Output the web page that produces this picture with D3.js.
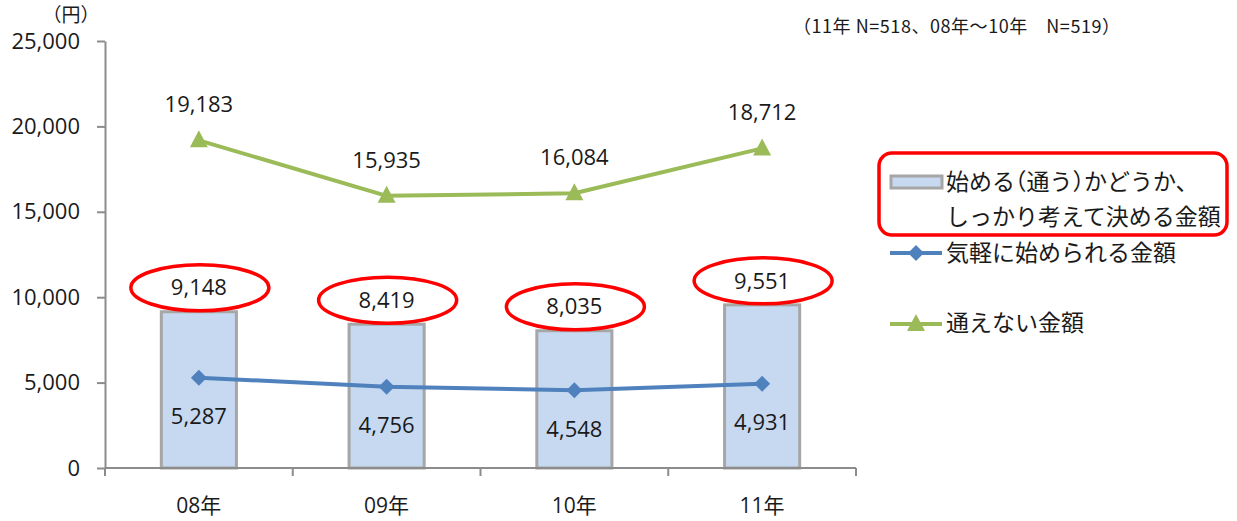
<!DOCTYPE html>
<html><head><meta charset="utf-8">
<script src="https://cdn.jsdelivr.net/npm/d3@7"></script>
<style>
body{margin:0;background:#fff;}
svg{display:block;}
text{font-family:"Open Sans","Noto Sans CJK JP",sans-serif;}
.cjk{font-family:"Noto Sans CJK JP",sans-serif;font-feature-settings:"halt";}
.cjkn{font-family:"Noto Sans CJK JP",sans-serif;}
</style></head>
<body>
<svg id="c" width="1237" height="521"></svg>
<script>
const categories = ["08年","09年","10年","11年"];
const decideValues = [9148, 8419, 8035, 9551];   // bars
const easyValues = [5287, 4756, 4548, 4931];     // blue line
const cannotValues = [19183, 15935, 16084, 18712]; // green line
const yTicks = [0, 5000, 10000, 15000, 20000, 25000];
const legendLabels = [["始める（通う）かどうか、","しっかり考えて決める金額"], ["気軽に始められる金額"], ["通えない金額"]];
const noteText = "（11年 N=518、08年～10年\u3000N=519）";
const unitText = "（円）";

const svg = d3.select("#c");
const x = d3.scaleBand().domain(categories).range([105, 856]).paddingInner(0.6).paddingOuter(0.3);
const y = d3.scaleLinear().domain([0, 25000]).range([468, 41]);
const fmt = d3.format(",");
const cx = c => x(c) + x.bandwidth() / 2;

const grey = "#8c8c8c";
const blue = "#4f81bd";
const green = "#9bbb59";
const ink = "#1a1a1a";

// bars
svg.append("g").selectAll("rect").data(categories).join("rect")
  .attr("x", c => x(c)).attr("width", x.bandwidth())
  .attr("y", (c, i) => y(decideValues[i])).attr("height", (c, i) => y(0) - y(decideValues[i]))
  .attr("fill", "#c6d9f1").attr("stroke", "#a6a6a6").attr("stroke-width", 3);

// y axis
const ya = svg.append("g").attr("transform", "translate(105,0)")
  .call(d3.axisLeft(y).tickValues(yTicks).tickSize(8).tickSizeOuter(0).tickPadding(17).tickFormat(fmt));
ya.select(".domain").attr("stroke", grey).attr("stroke-width", 2);
ya.selectAll(".tick line").attr("stroke", grey).attr("stroke-width", 2);
ya.selectAll(".tick text").attr("font-size", 22).attr("fill", ink).attr("font-family", "Open Sans");

// x axis
const xa = svg.append("g").attr("transform", `translate(0,${y(0)})`);
xa.append("line").attr("x1", 105).attr("x2", 856).attr("stroke", grey).attr("stroke-width", 2);
const bounds = categories.map(c => x(c) - x.step() * x.paddingInner() / 2).concat([856]);
bounds[0] = 105;
xa.selectAll("line.t").data(bounds).join("line").attr("class", "t")
  .attr("x1", d => d).attr("x2", d => d).attr("y1", 0).attr("y2", 8).attr("stroke", grey).attr("stroke-width", 2);
xa.selectAll("text").data(categories).join("text")
  .attr("x", c => cx(c)).attr("y", 38).attr("dy", "0.35em").attr("text-anchor", "middle")
  .attr("font-size", 21).attr("fill", ink).text(c => c);

// lines
function drawLine(vals, color, marker) {
  const line = d3.line().x((d, i) => cx(categories[i])).y(d => y(d));
  svg.append("path").datum(vals).attr("d", line).attr("fill", "none")
    .attr("stroke", color).attr("stroke-width", 4).attr("stroke-linejoin", "round");
  svg.append("g").selectAll("path").data(vals).join("path")
    .attr("transform", (d, i) => `translate(${cx(categories[i])},${y(d)})`)
    .attr("d", marker).attr("fill", color);
}
const diamond = "M0,-8L8,0L0,8L-8,0Z";
const triangle = "M0,-10L9,7L-9,7Z";
drawLine(easyValues, blue, diamond);
drawLine(cannotValues, green, triangle);

// data labels
const lab = svg.append("g").attr("font-size", 22).attr("fill", ink).attr("text-anchor", "middle");
lab.selectAll("text.b").data(decideValues).join("text").attr("class", "b")
  .attr("x", (d, i) => cx(categories[i])).attr("y", d => y(d) - 24).attr("dy", "0.35em").text(fmt);
lab.selectAll("text.e").data(easyValues).join("text").attr("class", "e")
  .attr("x", (d, i) => cx(categories[i])).attr("y", d => y(d) + 39).attr("dy", "0.35em").text(fmt);
lab.selectAll("text.g").data(cannotValues).join("text").attr("class", "g")
  .attr("x", (d, i) => cx(categories[i])).attr("y", d => y(d) - 36).attr("dy", "0.35em").text(fmt);

// red ellipses around bar labels
svg.append("g").selectAll("ellipse").data(decideValues).join("ellipse")
  .attr("cx", (d, i) => cx(categories[i]) + 1).attr("cy", d => y(d) - 24)
  .attr("rx", 69).attr("ry", 23).attr("fill", "none").attr("stroke", "#ff0000").attr("stroke-width", 3.5);

// legend
const lg = svg.append("g");
const lt = (yy, s) => lg.append("text").attr("class", "cjk").attr("x", 946).attr("y", yy)
  .attr("dy", "0.35em").attr("font-size", 23).attr("fill", ink).text(s);
lg.append("rect").attr("x", 891).attr("y", 176).attr("width", 51).attr("height", 12)
  .attr("fill", "#c6d9f1").attr("stroke", "#a6a6a6").attr("stroke-width", 3);
lt(182, legendLabels[0][0]);
lt(217, legendLabels[0][1]);
lg.append("line").attr("x1", 890).attr("x2", 942).attr("y1", 253).attr("y2", 253).attr("stroke", blue).attr("stroke-width", 4);
lg.append("path").attr("transform", "translate(916,253)").attr("d", diamond).attr("fill", blue);
lt(253, legendLabels[1][0]);
lg.append("line").attr("x1", 890).attr("x2", 942).attr("y1", 324).attr("y2", 324).attr("stroke", green).attr("stroke-width", 4);
lg.append("path").attr("transform", "translate(916,324)").attr("d", triangle).attr("fill", green);
lt(323, legendLabels[2][0]);
lg.append("rect").attr("x", 879).attr("y", 153).attr("width", 348).attr("height", 82).attr("rx", 13)
  .attr("fill", "none").attr("stroke", "#ff0000").attr("stroke-width", 3.5);

// notes
svg.append("text").attr("class", "cjkn").attr("x", 793).attr("y", 27).attr("dy", "0.35em")
  .attr("font-size", 18).attr("fill", ink).attr("textLength", 327).attr("lengthAdjust", "spacing").text(noteText);
svg.append("text").attr("class", "cjk").attr("x", 52).attr("y", 15).attr("dy", "0.35em")
  .attr("font-size", 19).attr("fill", ink).text(unitText);
</script>
</body></html>
